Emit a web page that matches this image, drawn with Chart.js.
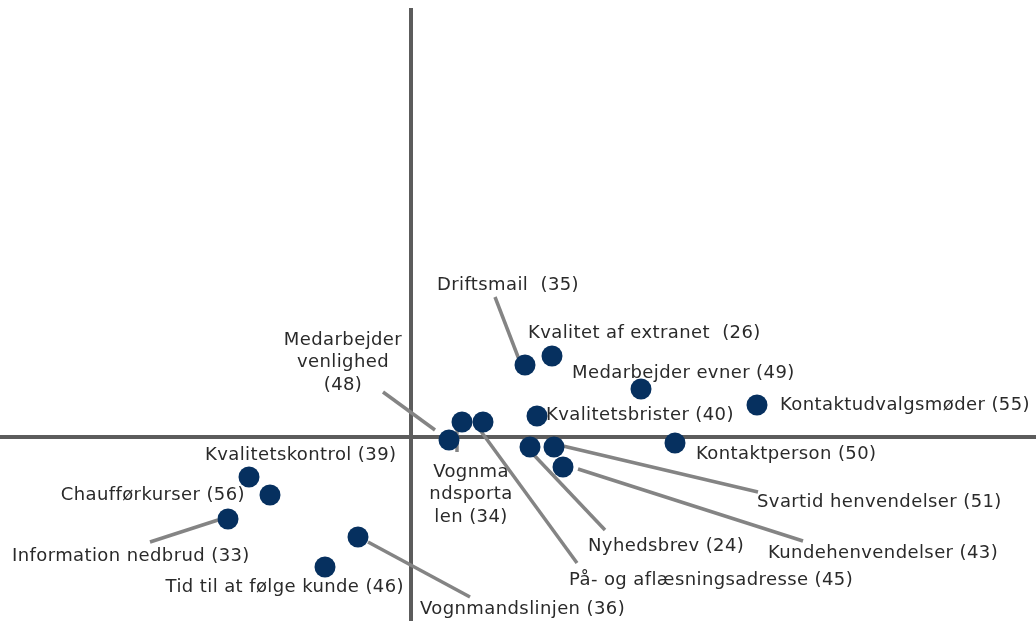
<!DOCTYPE html>
<html>
<head>
<meta charset="utf-8">
<script src="https://cdn.jsdelivr.net/npm/chart.js@4/dist/chart.umd.min.js"></script>
<style>
  html, body { margin: 0; padding: 0; background: #fff; }
  #wrap { width: 1036px; height: 621px; position: relative; }
</style>
</head>
<body>
<div id="wrap"><canvas id="chart"></canvas></div>
<script>
// data
const names = [
  'Driftsmail  (35)', 'Kvalitet af extranet  (26)', 'Medarbejder evner (49)',
  'Kontaktudvalgsmøder (55)', 'Kvalitetsbrister (40)', 'Kontaktperson (50)',
  'Medarbejder venlighed (48)', 'Vognmandsportalen (34)', 'På- og aflæsningsadresse (45)',
  'Nyhedsbrev (24)', 'Svartid henvendelser (51)', 'Kundehenvendelser (43)',
  'Kvalitetskontrol (39)', 'Chaufførkurser (56)', 'Information nedbrud (33)',
  'Vognmandslinjen (36)', 'Tid til at følge kunde (46)'
];
const xValues = [1.14, 1.41, 2.30, 3.46, 1.26, 2.64, 0.38, 0.51, 0.72, 1.19, 1.43, 1.52, -1.62, -1.41, -1.83, -0.53, -0.86];
const yValues = [0.72, 0.81, 0.48, 0.32, 0.21, -0.06, -0.03, 0.15, 0.15, -0.10, -0.10, -0.30, -0.40, -0.58, -0.82, -1.00, -1.30];

// label placement (pixel offsets from the point), leader lines optional
const labelLayout = [
  { lines: ['Driftsmail  (35)'], dx: -17, dy: -80, align: 'center', lead: [-30, -68, -5, -3] },
  { lines: ['Kvalitet af extranet  (26)'], dx: -24, dy: -23, align: 'left' },
  { lines: ['Medarbejder evner (49)'], dx: -69, dy: -16, align: 'left' },
  { lines: ['Kontaktudvalgsmøder (55)'], dx: 23, dy: 0, align: 'left' },
  { lines: ['Kvalitetsbrister (40)'], dx: 9, dy: -1, align: 'left' },
  { lines: ['Kontaktperson (50)'], dx: 21, dy: 11, align: 'left' },
  { lines: ['Medarbejder', 'venlighed', '(48)'], dx: -106, dy: -100, align: 'center', lead: [-66, -48, -14, -10] },
  { lines: ['Vognma', 'ndsporta', 'len (34)'], dx: 9, dy: 50, align: 'center', lead: [-5, 4, -5, 30] },
  { lines: ['På- og aflæsningsadresse (45)'], dx: 86, dy: 158, align: 'left', lead: [-3, 8, 94, 141] },
  { lines: ['Nyhedsbrev (24)'], dx: 58, dy: 99, align: 'left', lead: [2, 6, 75, 83] },
  { lines: ['Svartid henvendelser (51)'], dx: 203, dy: 55, align: 'left', lead: [9, -1, 204, 45] },
  { lines: ['Kundehenvendelser (43)'], dx: 205, dy: 86, align: 'left', lead: [15, 2, 240, 74] },
  { lines: ['Kvalitetskontrol (39)'], dx: -44, dy: -22, align: 'left' },
  { lines: ['Chaufførkurser (56)'], dx: -25, dy: 0, align: 'right' },
  { lines: ['Information nedbrud (33)'], dx: -216, dy: 37, align: 'left', lead: [-10, 1, -78, 23] },
  { lines: ['Vognmandslinjen (36)'], dx: 62, dy: 72, align: 'left', lead: [10, 5, 112, 60] },
  { lines: ['Tid til at følge kunde (46)'], dx: 79, dy: 20, align: 'right' }
];

const FONT = '18px "DejaVu Sans", Verdana, sans-serif';

// draws the cross lines, leaders and labels
const quadrantPlugin = {
  id: 'quadrant',
  beforeDatasetsDraw(chart) {
    const { ctx, chartArea, scales } = chart;
    const x0 = scales.x.getPixelForValue(0);
    const y0 = scales.y.getPixelForValue(0);
    ctx.save();
    ctx.strokeStyle = '#5c5c5c';
    ctx.lineWidth = 4;
    ctx.beginPath();
    ctx.moveTo(x0, chartArea.top + 8);
    ctx.lineTo(x0, chartArea.bottom);
    ctx.moveTo(chartArea.left, y0);
    ctx.lineTo(chartArea.right, y0);
    ctx.stroke();

    ctx.strokeStyle = '#848484';
    ctx.lineWidth = 3.5;
    const meta = chart.getDatasetMeta(0);
    meta.data.forEach((pt, i) => {
      const l = labelLayout[i].lead;
      if (!l) return;
      ctx.beginPath();
      ctx.moveTo(pt.x + l[0], pt.y + l[1]);
      ctx.lineTo(pt.x + l[2], pt.y + l[3]);
      ctx.stroke();
    });
    ctx.restore();
  },
  afterDatasetsDraw(chart) {
    const { ctx } = chart;
    const meta = chart.getDatasetMeta(0);
    ctx.save();
    ctx.font = FONT;
    ctx.letterSpacing = '0.4px';
    ctx.fillStyle = '#2a2a2a';
    ctx.textBaseline = 'middle';
    meta.data.forEach((pt, i) => {
      const lab = labelLayout[i];
      ctx.textAlign = lab.align;
      lab.lines.forEach((t, k) => {
        ctx.fillText(t, pt.x + lab.dx, pt.y + lab.dy + k * 22.5);
      });
    });
    ctx.restore();
  }
};

new Chart(document.getElementById('chart'), {
  type: 'scatter',
  data: {
    labels: names,
    datasets: [{
      data: xValues.map((x, i) => ({ x: x, y: yValues[i] })),
      backgroundColor: '#06305f',
      borderWidth: 0,
      pointRadius: 10.5,
      pointHoverRadius: 10.5
    }]
  },
  options: {
    responsive: true,
    maintainAspectRatio: false,
    animation: false,
    layout: { padding: 0, autoPadding: false },
    plugins: { legend: { display: false }, tooltip: { enabled: false } },
    scales: {
      x: { type: 'linear', min: -4.11, max: 6.25, display: false },
      y: { type: 'linear', min: -1.84, max: 4.37, display: false }
    }
  },
  plugins: [quadrantPlugin]
});
</script>
</body>
</html>
